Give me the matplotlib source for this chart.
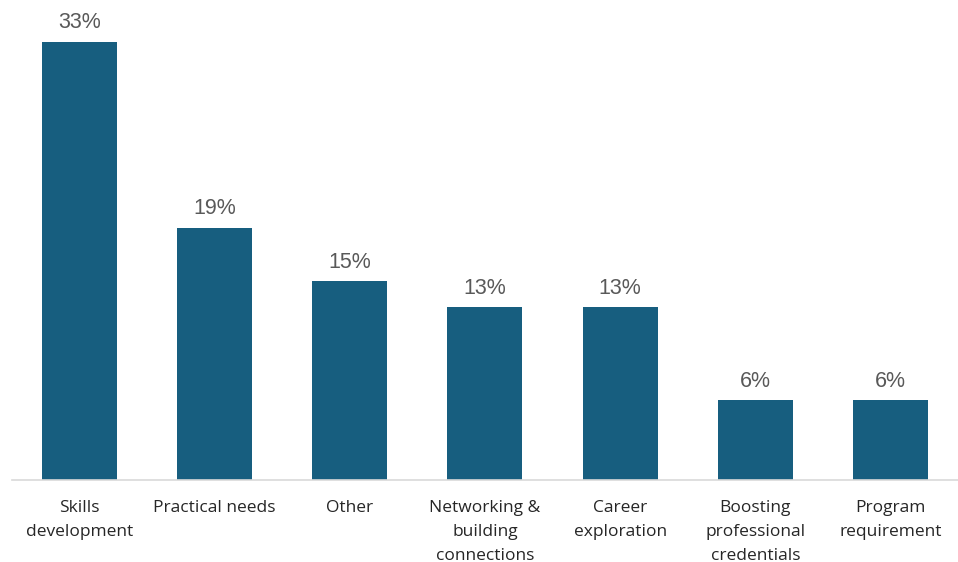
import matplotlib.pyplot as plt

categories = [
    "Skills\ndevelopment",
    "Practical needs",
    "Other",
    "Networking &\nbuilding\nconnections",
    "Career\nexploration",
    "Boosting\nprofessional\ncredentials",
    "Program\nrequirement",
]
shares = [33, 19, 15, 13, 13, 6, 6]

plt.rcParams["font.family"] = ["Open Sans", "DejaVu Sans"]

fig = plt.figure(figsize=(9.58, 5.62), dpi=100)
ax = fig.add_axes([0.0125, 82 / 562, 1 - 0.0125, 478 / 562])

x = range(len(categories))
bars = ax.bar(x, shares, width=0.555, color="#175E7F", zorder=2)

for rect, v in zip(bars, shares):
    ax.annotate(f"{v}%", (rect.get_x() + rect.get_width() / 2, rect.get_height()),
                xytext=(0, 6), textcoords="offset points", ha="center", va="bottom",
                fontsize=15.5, color="#595959", family=["Liberation Sans", "DejaVu Sans"])

ax.set_xlim(-0.5, 6.5)
ax.set_ylim(0, 36)
ax.set_xticks(list(x))
ax.set_xticklabels(categories, fontsize=12.5, color="#262626", linespacing=1.65, va="top")
ax.tick_params(axis="x", length=0, pad=14.5)
ax.set_yticks([])
for side in ("top", "right", "left"):
    ax.spines[side].set_visible(False)
ax.spines["bottom"].set_color("#D9D9D9")
ax.spines["bottom"].set_linewidth(1.2)

fig.savefig("out.png", dpi=100)
